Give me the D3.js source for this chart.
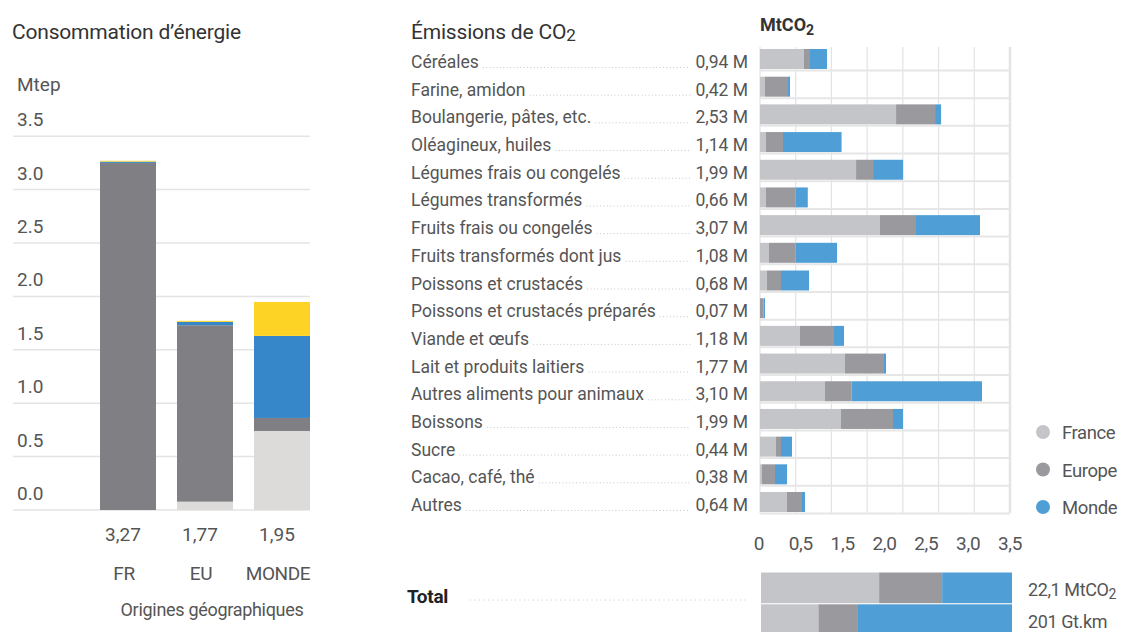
<!DOCTYPE html>
<html>
<head>
<meta charset="utf-8">
<script src="https://cdn.jsdelivr.net/npm/d3@7"></script>
<style>
body{margin:0;background:#fff;}
svg text{font-family:Roboto,"Liberation Sans",sans-serif;}
</style>
</head>
<body>
<svg id="chart" width="1122" height="632"></svg>
<script>
// consommation d'energie (Mtep)
var origins = ["FR","EU","MONDE"];
var originTotals = ["3,27","1,77","1,95"];
var energyLight = [0.0, 0.078, 0.74];
var energyDark = [3.25, 1.652, 0.122];
var energyBlue = [0.012, 0.031, 0.768];
var energyYellow = [0.008, 0.01, 0.318];
var energyTicks = [0,0.5,1,1.5,2,2.5,3,3.5];

// emissions de CO2 (MtCO2)
var categories = ["Céréales","Farine, amidon","Boulangerie, pâtes, etc.","Oléagineux, huiles",
    "Légumes frais ou congelés","Légumes transformés","Fruits frais ou congelés",
    "Fruits transformés dont jus","Poissons et crustacés","Poissons et crustacés préparés",
    "Viande et œufs","Lait et produits laitiers","Autres aliments pour animaux","Boissons",
    "Sucre","Cacao, café, thé","Autres"];
var catTotals = ["0,94 M","0,42 M","2,53 M","1,14 M","1,99 M","0,66 M","3,07 M","1,08 M","0,68 M",
    "0,07 M","1,18 M","1,77 M","3,10 M","1,99 M","0,44 M","0,38 M","0,64 M"];
var franceVals = [0.616,0.07,1.905,0.084,1.345,0.084,1.68,0.126,0.098,0.0,0.56,1.19,0.91,1.134,0.224,0.028,0.378];
var europeVals = [0.084,0.31,0.546,0.238,0.238,0.415,0.504,0.373,0.196,0.05,0.476,0.546,0.373,0.728,0.07,0.182,0.21];
var mondeVals = [0.238,0.04,0.084,0.82,0.42,0.17,0.896,0.579,0.392,0.02,0.14,0.028,1.825,0.14,0.154,0.168,0.042];
var co2Ticks = [0,0.5,1,1.5,2,2.5,3,3.5];
var co2TickLabels = ["0","0,5","1,5","2,0","2,5","3,0","3,5"];
var legendNames = ["France","Europe","Monde"];

// totaux
var totalNames = ["co2","tkm"];
var totalCO2 = [10.4, 5.55, 6.15];
var totalTransport = [46, 31, 124];

var originColors = ["#dcdbd9","#807f83","#3587c9","#fdd426"];
var regionColors = ["#c4c5c8","#9a999e","#4f9fd6"];
var textColor = "#555";

var svg = d3.select("#chart");

// ---------- left chart ----------
var yE = d3.scaleLinear().domain([0,3.5]).range([510,136.2]);
var xE = d3.scaleBand().domain(origins).range([100,310]).paddingInner(0.2727).paddingOuter(0);

svg.append("text").attr("x",12).attr("y",39)
    .attr("font-size",21).attr("letter-spacing",-0.2).attr("fill","#333").text("Consommation d’énergie");
svg.append("text").attr("x",17).attr("y",91)
    .attr("font-size",19).attr("fill",textColor).text("Mtep");

svg.append("g").selectAll("line")
    .data(energyTicks)
    .enter()
    .append("line")
    .attr("x1",13).attr("x2",310)
    .attr("y1",function(d){return yE(d);})
    .attr("y2",function(d){return yE(d);})
    .attr("stroke","#e4e4e4").attr("stroke-width",1.5);

svg.append("g").selectAll("text")
    .data(energyTicks)
    .enter()
    .append("text")
    .attr("x",17)
    .attr("y",function(d){return yE(d)-10;})
    .attr("font-size",19).attr("fill",textColor)
    .text(function(d){return d3.format(".1f")(d);});

var energyRows = origins.map(function(o,i){
    return {origin:o, light:energyLight[i], dark:energyDark[i], blue:energyBlue[i], yellow:energyYellow[i]};
});
var energyStack = d3.stack().keys(["light","dark","blue","yellow"])(energyRows);

svg.append("g").selectAll("g")
    .data(energyStack)
    .enter()
    .append("g")
    .attr("fill",function(d,i){return originColors[i];})
    .selectAll("rect")
    .data(function(d){return d;})
    .enter()
    .append("rect")
    .attr("x",function(d){return xE(d.data.origin);})
    .attr("width",xE.bandwidth())
    .attr("y",function(d){return yE(d[1]);})
    .attr("height",function(d){return yE(d[0])-yE(d[1]);});

svg.append("g").selectAll("text")
    .data(origins)
    .enter()
    .append("text")
    .attr("x",function(d){return xE(d)+xE.bandwidth()/2-5;})
    .attr("y",541)
    .attr("text-anchor","middle").attr("font-size",19).attr("fill",textColor)
    .text(function(d,i){return originTotals[i];});

svg.append("g").selectAll("text")
    .data(origins)
    .enter()
    .append("text")
    .attr("x",function(d){return xE(d)+xE.bandwidth()/2-4;})
    .attr("y",580)
    .attr("text-anchor","middle").attr("font-size",19).attr("letter-spacing",-0.4).attr("fill",textColor)
    .text(function(d){return d;});

svg.append("text").attr("x",212).attr("y",616)
    .attr("text-anchor","middle").attr("font-size",18).attr("letter-spacing",-0.3).attr("fill",textColor)
    .text("Origines géographiques");

// ---------- right chart ----------
var xC = d3.scaleLinear().domain([0,3.5]).range([760,1010]);
var yC = d3.scaleBand().domain(categories).range([45.15,515.85]).paddingInner(0.278).paddingOuter(0.139);

var title = svg.append("text").attr("x",411).attr("y",39)
    .attr("font-size",21).attr("letter-spacing",-0.2).attr("fill","#333");
title.append("tspan").text("Émissions de CO");
title.append("tspan").attr("font-size",17).attr("dy",2).text("2");

var unit = svg.append("text").attr("x",760).attr("y",31)
    .attr("font-size",18).attr("font-weight","bold").attr("fill","#333");
unit.append("tspan").text("MtCO");
unit.append("tspan").attr("font-size",14).attr("dy",4).text("2");

// grid
svg.append("g").selectAll("line")
    .data(co2Ticks)
    .enter()
    .append("line")
    .attr("x1",function(d){return xC(d);})
    .attr("x2",function(d){return xC(d);})
    .attr("y1",47).attr("y2",513)
    .attr("stroke","#e3e3e3")
    .attr("stroke-width",function(d,i){return i==co2Ticks.length-1 ? 2.5 : 1.2;});

svg.append("g").selectAll("line")
    .data(categories)
    .enter()
    .append("line")
    .attr("x1",xC(0)).attr("x2",xC(3.5))
    .attr("y1",function(d){return yC(d)+yC.bandwidth()+1.5;})
    .attr("y2",function(d){return yC(d)+yC.bandwidth()+1.5;})
    .attr("stroke","#e6e6e6").attr("stroke-width",2);

var co2Rows = categories.map(function(c,i){
    return {cat:c, France:franceVals[i], Europe:europeVals[i], Monde:mondeVals[i]};
});
var co2Stack = d3.stack().keys(legendNames)(co2Rows);

svg.append("g").selectAll("g")
    .data(co2Stack)
    .enter()
    .append("g")
    .attr("fill",function(d,i){return regionColors[i];})
    .selectAll("rect")
    .data(function(d){return d;})
    .enter()
    .append("rect")
    .attr("y",function(d){return yC(d.data.cat);})
    .attr("height",yC.bandwidth())
    .attr("x",function(d){return xC(d[0]);})
    .attr("width",function(d){return xC(d[1])-xC(d[0]);});

// row labels, values and dotted leaders
var rows = svg.append("g").selectAll("g")
    .data(categories)
    .enter()
    .append("g")
    .attr("transform",function(d){return "translate(0," + (yC(d)+yC.bandwidth()/2+9) + ")";});

rows.append("text")
    .attr("class","lab")
    .attr("x",411)
    .attr("font-size",17.5).attr("fill",textColor)
    .text(function(d){return d;});

rows.append("text")
    .attr("class","val")
    .attr("x",748).attr("text-anchor","end")
    .attr("font-size",17.5).attr("fill",textColor)
    .text(function(d,i){return catTotals[i];});

rows.each(function(){
    var g = d3.select(this);
    var labEnd = 411 + g.select(".lab").node().getComputedTextLength() + 4;
    var valStart = 748 - g.select(".val").node().getComputedTextLength() - 5;
    g.insert("line",":first-child")
        .attr("x1",labEnd).attr("x2",valStart)
        .attr("y1",-0.5).attr("y2",-0.5)
        .attr("stroke","#c8c8c8").attr("stroke-width",1)
        .attr("stroke-dasharray","1,2.4");
});

// axis labels
var xLab = d3.scalePoint().domain(co2TickLabels).range([759,1010]);
svg.append("g").selectAll("text")
    .data(co2TickLabels)
    .enter()
    .append("text")
    .attr("x",function(d){return xLab(d);})
    .attr("y",550)
    .attr("text-anchor","middle").attr("font-size",19).attr("letter-spacing",-0.3).attr("fill",textColor)
    .text(function(d){return d;});

// legend
var yLeg = d3.scalePoint().domain(legendNames).range([432,507]);
var leg = svg.append("g").selectAll("g")
    .data(legendNames)
    .enter()
    .append("g")
    .attr("transform",function(d){return "translate(1043," + yLeg(d) + ")";});
leg.append("circle").attr("r",7).attr("fill",function(d,i){return regionColors[i];});
leg.append("text").attr("x",19).attr("y",7)
    .attr("font-size",18.5).attr("letter-spacing",-0.4).attr("fill",textColor)
    .text(function(d){return d;});

// totals
svg.append("text").attr("x",407).attr("y",603)
    .attr("font-size",19).attr("font-weight","bold").attr("letter-spacing",-0.3).attr("fill","#222").text("Total");
svg.append("line").attr("x1",470).attr("x2",747).attr("y1",600).attr("y2",600)
    .attr("stroke","#c8c8c8").attr("stroke-width",1).attr("stroke-dasharray","1,3.5");

var yT = d3.scaleBand().domain(totalNames).range([572.5,635]).paddingInner(0.035);
var totalSets = [totalCO2, totalTransport];
totalNames.forEach(function(name,k){
    var vals = totalSets[k];
    var xT = d3.scaleLinear().domain([0,d3.sum(vals)]).range([761,1012]);
    var stacked = d3.cumsum(vals);
    svg.append("g").selectAll("rect")
        .data(vals)
        .enter()
        .append("rect")
        .attr("y",yT(name))
        .attr("height",yT.bandwidth())
        .attr("x",function(d,i){return xT(stacked[i]-d);})
        .attr("width",function(d){return xT(d)-xT(0);})
        .attr("fill",function(d,i){return regionColors[i];});
});

var t1 = svg.append("text").attr("x",1028).attr("y",yT("co2")+yT.bandwidth()/2+8)
    .attr("font-size",18).attr("letter-spacing",-0.4).attr("fill",textColor);
t1.append("tspan").text("22,1 MtCO");
t1.append("tspan").attr("font-size",14).attr("dy",3).text("2");
svg.append("text").attr("x",1028).attr("y",yT("tkm")+yT.bandwidth()/2+8)
    .attr("font-size",18).attr("letter-spacing",-0.4).attr("fill",textColor).text("201 Gt.km");
</script>
</body>
</html>
